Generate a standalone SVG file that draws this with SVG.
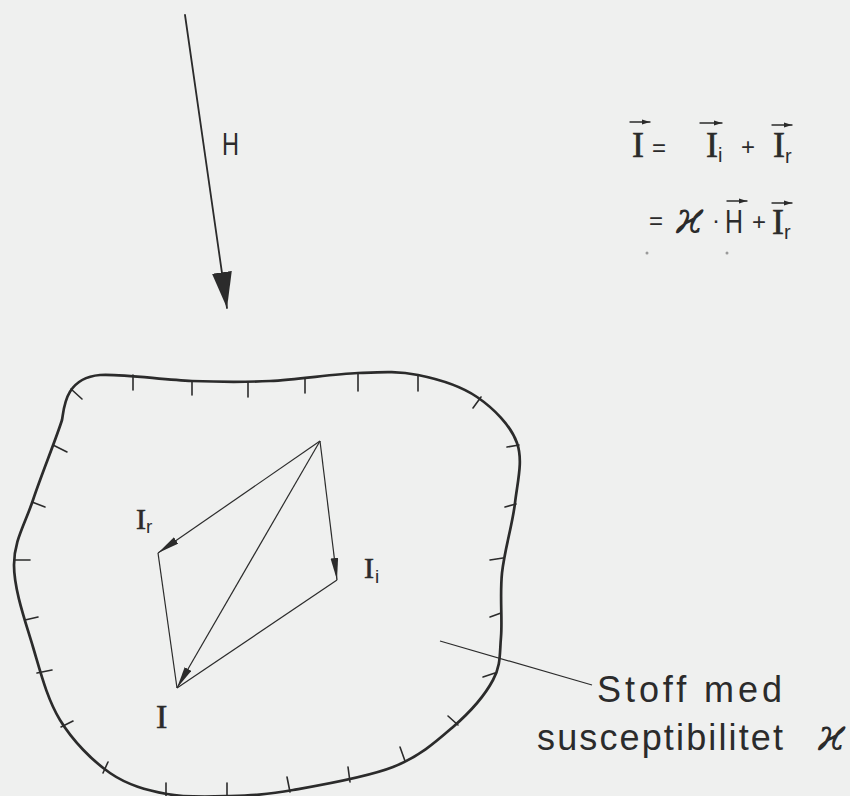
<svg xmlns="http://www.w3.org/2000/svg" width="850" height="796" viewBox="0 0 850 796">
<defs>
<style>
.bg{fill:#eff0ef}
.ln{stroke:#2b2b2b;fill:none;stroke-linecap:round}
.blob{stroke:#2b2b2b;fill:none;stroke-width:2.7;stroke-linejoin:round}
.tick{stroke:#2b2b2b;stroke-width:1.6;stroke-linecap:round}
.vec{stroke:#2b2b2b;stroke-width:1.2;fill:none}
.serif{font-family:"Liberation Serif","DejaVu Serif",serif;fill:#2b2b2b;stroke:#2b2b2b;stroke-width:0.6}
.sans{font-family:"Liberation Sans","DejaVu Sans",sans-serif;fill:#2b2b2b}
.kap{font-family:"DejaVu Serif","Liberation Serif",serif;font-style:italic;fill:#2b2b2b}
</style>
<marker id="bigHead" markerUnits="userSpaceOnUse" markerWidth="36" markerHeight="22" viewBox="0 -11 36 22" refX="36" refY="0" orient="auto">
<path d="M0,-10 L36,0 L0,10 Z" fill="#2b2b2b"/>
</marker>
<marker id="smallHead" markerUnits="userSpaceOnUse" markerWidth="22" markerHeight="8" viewBox="0 -4 22 8" refX="22" refY="0" orient="auto">
<path d="M0,-3.8 L22,0 L0,3.8 Z" fill="#2b2b2b"/>
</marker>
<marker id="tinyHead" markerUnits="userSpaceOnUse" markerWidth="8" markerHeight="6" viewBox="0 -3 8 6" refX="8" refY="0" orient="auto">
<path d="M0,-2.5 L8,0 L0,2.5 Z" fill="#2b2b2b"/>
</marker>
</defs>
<rect class="bg" x="0" y="0" width="850" height="796"/>

<g id="field-H">
<line class="ln" x1="185" y1="15" x2="227" y2="308" stroke-width="1.8" marker-end="url(#bigHead)"/>
<text class="sans" x="222" y="155" font-size="32" textLength="17" lengthAdjust="spacingAndGlyphs">H</text>
</g>

<g id="material">
<path class="blob" d="M100,375 C120.8,373.5 163.7,380 192,381 C220.3,382 242.3,382.3 270,381 C297.7,379.7 333.3,374 358,373 C382.7,372 398.2,371 418,375 C437.8,379 460.5,385.7 477,397 C493.5,408.3 510.7,425.3 517,443 C523.3,460.7 517.5,481.3 515,503 C512.5,524.7 504.3,550.7 502,573 C499.7,595.3 502.5,619.2 501,637 C499.5,654.8 501,665 493,680 C485,695 469.7,712.5 453,727 C436.3,741.5 419.7,756.5 393,767 C366.3,777.5 320.2,785.2 293,790 C265.8,794.8 251,795.3 230,796 C209,796.7 187,797.8 167,794 C147,790.2 127.8,785.3 110,773 C92.2,760.7 72.8,741 60,720 C47.2,699 40.7,672.8 33,647 C25.3,621.2 14,589.5 14,565 C14,540.5 25,524.2 33,500 C41,475.8 56.3,438.3 62,420 C64,410 64,378 100,375 Z"/>
<g id="ticks">
<line class="tick" x1="133" y1="375" x2="133" y2="390"/>
<line class="tick" x1="192" y1="381" x2="192" y2="395"/>
<line class="tick" x1="248" y1="382" x2="248" y2="397"/>
<line class="tick" x1="305" y1="378" x2="305" y2="393"/>
<line class="tick" x1="358" y1="373" x2="358" y2="391"/>
<line class="tick" x1="418" y1="375" x2="418" y2="391"/>
<line class="tick" x1="71" y1="389" x2="82" y2="399"/>
<line class="tick" x1="481" y1="397" x2="473" y2="408"/>
<line class="tick" x1="519" y1="445" x2="507" y2="447"/>
<line class="tick" x1="516" y1="504" x2="505" y2="507"/>
<line class="tick" x1="503" y1="558" x2="490" y2="560"/>
<line class="tick" x1="501" y1="613" x2="490" y2="617"/>
<line class="tick" x1="495" y1="673" x2="483" y2="677"/>
<line class="tick" x1="458" y1="725" x2="448" y2="716"/>
<line class="tick" x1="405" y1="761" x2="400" y2="747"/>
<line class="tick" x1="350" y1="782" x2="348" y2="767"/>
<line class="tick" x1="290" y1="792" x2="287" y2="777"/>
<line class="tick" x1="227" y1="797" x2="227" y2="783"/>
<line class="tick" x1="166" y1="797" x2="166" y2="783"/>
<line class="tick" x1="103" y1="773" x2="108" y2="762"/>
<line class="tick" x1="61" y1="727" x2="73" y2="721"/>
<line class="tick" x1="37" y1="673" x2="52" y2="670"/>
<line class="tick" x1="25" y1="620" x2="38" y2="617"/>
<line class="tick" x1="14" y1="560" x2="30" y2="560"/>
<line class="tick" x1="32" y1="502" x2="45" y2="507"/>
<line class="tick" x1="53" y1="445" x2="67" y2="452"/>
</g>
</g>

<g id="connectors">
<line class="vec" x1="320" y1="441" x2="158" y2="553" marker-end="url(#smallHead)"/>
<line class="vec" x1="320" y1="441" x2="337" y2="580" marker-end="url(#smallHead)"/>
<line class="vec" x1="320" y1="441" x2="177" y2="688" marker-end="url(#smallHead)"/>
<line class="vec" x1="158" y1="553" x2="177" y2="688"/>
<line class="vec" x1="337" y1="580" x2="177" y2="688"/>
<line class="vec" x1="440" y1="641" x2="592" y2="685"/>
</g>

<g id="label-Ir">
<text class="serif" x="136" y="529" font-size="30">I</text>
<text class="sans" x="146" y="533" font-size="19">r</text>
</g>
<g id="label-Ii">
<text class="serif" x="364" y="578" font-size="30">I</text>
<text class="sans" x="375" y="583" font-size="19">i</text>
</g>
<g id="label-I">
<text class="serif" x="156" y="728" font-size="34">I</text>
</g>

<g id="material-label">
<text class="sans" x="597" y="702" font-size="36" textLength="185" lengthAdjust="spacing">Stoff med</text>
<text class="sans" x="537" y="750" font-size="36" textLength="246" lengthAdjust="spacing">susceptibilitet</text>
<text class="kap" x="818" y="750" font-size="44">ϰ</text>
</g>

<g id="equation">
<line class="ln" x1="630" y1="122" x2="650" y2="122" stroke-width="1.4" marker-end="url(#tinyHead)"/>
<text class="serif" x="632" y="157" font-size="36">I</text>
<text class="sans" x="652" y="156" font-size="24">=</text>
<line class="ln" x1="700" y1="123" x2="722" y2="123" stroke-width="1.4" marker-end="url(#tinyHead)"/>
<text class="serif" x="706" y="157" font-size="36">I</text>
<text class="sans" x="718" y="162" font-size="20">i</text>
<text class="sans" x="741" y="155" font-size="24">+</text>
<line class="ln" x1="772" y1="125" x2="792" y2="125" stroke-width="1.4" marker-end="url(#tinyHead)"/>
<text class="serif" x="773" y="157" font-size="36">I</text>
<text class="sans" x="785" y="163" font-size="20">r</text>

<text class="sans" x="649" y="229" font-size="24">=</text>
<text class="kap" x="676" y="233" font-size="44">ϰ</text>
<text class="sans" x="712" y="228" font-size="24">·</text>
<line class="ln" x1="727" y1="201" x2="747" y2="201" stroke-width="1.4" marker-end="url(#tinyHead)"/>
<text class="sans" x="725" y="233" font-size="34" textLength="18" lengthAdjust="spacingAndGlyphs">H</text>
<text class="sans" x="752" y="230" font-size="24">+</text>
<line class="ln" x1="772" y1="203" x2="792" y2="203" stroke-width="1.4" marker-end="url(#tinyHead)"/>
<text class="serif" x="772" y="234" font-size="36">I</text>
<text class="sans" x="784" y="239" font-size="20">r</text>
<circle cx="647" cy="253" r="1.5" fill="#9a9a9a"/>
<circle cx="727" cy="253" r="1.5" fill="#9a9a9a"/>
</g>
</svg>
